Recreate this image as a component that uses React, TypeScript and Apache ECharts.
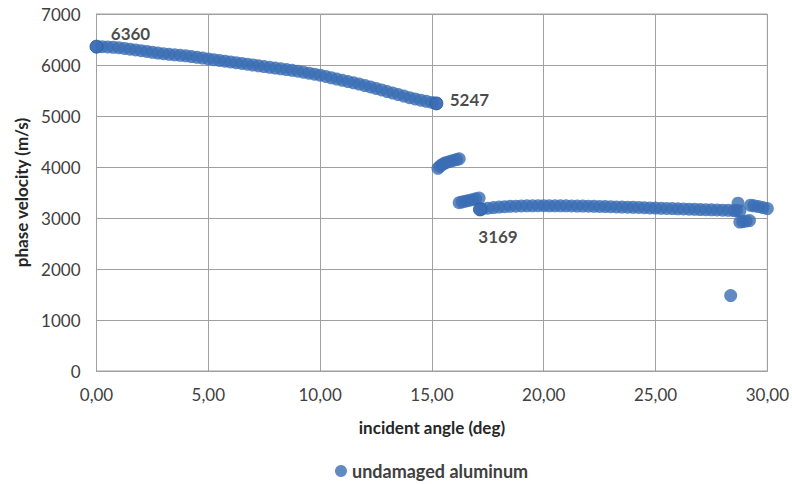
import React, { useEffect, useRef } from "react";
import * as echarts from "echarts";

// Branch 1: main curve
const angles1 = [0, 0.25, 0.5, 0.75, 1, 1.25, 1.5, 1.75, 2, 2.25, 2.5, 2.75, 3, 3.25, 3.5, 3.75, 4, 4.25, 4.5, 4.75, 5, 5.25, 5.5, 5.75, 6, 6.25, 6.5, 6.75, 7, 7.25, 7.5, 7.75, 8, 8.25, 8.5, 8.75, 9, 9.25, 9.5, 9.75, 10, 10.25, 10.5, 10.75, 11, 11.25, 11.5, 11.75, 12, 12.25, 12.5, 12.75, 13, 13.25, 13.5, 13.75, 14, 14.25, 14.5, 14.75, 15, 15.2];
const velocities1 = [6360, 6360, 6355, 6348, 6340, 6325, 6310, 6295, 6280, 6265, 6250, 6235, 6222, 6210, 6200, 6190, 6180, 6165, 6150, 6135, 6120, 6105, 6090, 6075, 6060, 6045, 6030, 6015, 6000, 5985, 5970, 5955, 5940, 5925, 5910, 5895, 5878, 5860, 5840, 5820, 5800, 5775, 5750, 5725, 5700, 5675, 5650, 5625, 5598, 5570, 5540, 5510, 5480, 5450, 5420, 5390, 5360, 5335, 5310, 5287, 5265, 5247];

// Branch 2
const angles2 = [15.27, 15.35, 15.45, 15.55, 15.65, 15.8, 15.95, 16.1, 16.22];
const velocities2 = [3975, 4010, 4045, 4070, 4090, 4110, 4128, 4145, 4160];

// Branch 3
const angles3 = [16.22, 16.35, 16.5, 16.65, 16.8, 16.95, 17.11];
const velocities3 = [3300, 3315, 3330, 3345, 3360, 3375, 3390];

// Branch 4
const angles4 = [17.15, 17.25, 17.5, 17.75, 18, 18.25, 18.5, 18.75, 19, 19.25, 19.5, 19.75, 20, 20.25, 20.5, 20.75, 21, 21.25, 21.5, 21.75, 22, 22.25, 22.5, 22.75, 23, 23.25, 23.5, 23.75, 24, 24.25, 24.5, 24.75, 25, 25.25, 25.5, 25.75, 26, 26.25, 26.5, 26.75, 27, 27.25, 27.5, 27.75, 28, 28.25, 28.5, 28.62];
const velocities4 = [3169, 3178, 3193, 3205, 3215, 3222, 3228, 3232, 3236, 3238, 3240, 3241, 3241, 3240, 3240, 3239, 3238, 3237, 3235, 3233, 3231, 3229, 3227, 3224, 3221, 3218, 3215, 3212, 3209, 3206, 3202, 3198, 3195, 3191, 3187, 3184, 3180, 3177, 3173, 3170, 3166, 3163, 3160, 3157, 3153, 3150, 3147, 3145];

// Scattered points near 28-30 deg
const angles5 = [28.36, 28.69, 28.77, 28.77, 28.9, 29.05, 29.2, 29.25, 29.4, 29.6, 29.8, 30.0];
const velocities5 = [1480, 3290, 3143, 2920, 2930, 2940, 2950, 3250, 3240, 3225, 3205, 3185];

// Annotated points
const labelAngles = [0, 15.2, 17.15];
const labelValues = [6360, 5247, 3169];

const SERIES_NAME = "undamaged aluminum";
const BLUE = "#3a6db4";
const FONT = "Lato, 'Open Sans', sans-serif";

function zip(xs: number[], ys: number[]) {
  return xs.map((x, i) => [x, ys[i]]);
}

export default function App() {
  const ref = useRef<HTMLDivElement>(null);

  useEffect(() => {
    if (!ref.current) return;
    const chart = echarts.init(ref.current, undefined, { renderer: "svg" });

    const allData = [
      ...zip(angles1, velocities1),
      ...zip(angles2, velocities2),
      ...zip(angles3, velocities3),
      ...zip(angles4, velocities4),
      ...zip(angles5, velocities5),
    ];

    const offsets: [number, number][] = [
      [34, -13],
      [33, -4],
      [18, 27],
    ];

    const labelData = labelAngles.map((a, i) => ({
      value: [a, labelValues[i]],
      label: {
        show: true,
        position: "inside",
        offset: offsets[i],
        formatter: String(labelValues[i]),
        fontFamily: FONT,
        fontWeight: "bold",
        fontSize: 17,
        color: "#1a1a1a",
      },
    }));

    chart.setOption({
      animation: false,
      backgroundColor: "#ffffff",
      grid: {
        left: 96.5,
        right: 24.5,
        top: 14,
        bottom: 113,
        show: true,
        borderColor: "#a0a0a0",
        borderWidth: 1,
      },
      legend: {
        data: [SERIES_NAME],
        left: 330,
        top: 457,
        icon: "circle",
        itemWidth: 12,
        itemHeight: 12,
        itemGap: 6,
        textStyle: {
          fontFamily: FONT,
          fontWeight: "bold",
          fontSize: 18,
          color: "#404040",
        },
      },
      xAxis: {
        type: "value",
        min: 0,
        max: 30,
        interval: 5,
        name: "incident angle (deg)",
        nameLocation: "middle",
        nameGap: 48,
        nameTextStyle: {
          fontFamily: FONT,
          fontWeight: "bold",
          fontSize: 17,
          color: "#262626",
        },
        axisLine: { show: true, lineStyle: { color: "#a0a0a0" } },
        axisTick: { show: false },
        splitLine: { show: true, lineStyle: { color: "#a0a0a0", width: 1 } },
        axisLabel: {
          margin: 15,
          fontFamily: FONT,
          fontSize: 17,
          color: "#404040",
          formatter: (v: number) => v.toFixed(2).replace(".", ","),
        },
      },
      yAxis: {
        type: "value",
        min: 0,
        max: 7000,
        interval: 1000,
        name: "phase velocity (m/s)",
        nameLocation: "middle",
        nameGap: 66,
        nameTextStyle: {
          fontFamily: FONT,
          fontWeight: "bold",
          fontSize: 17,
          color: "#262626",
        },
        axisLine: { show: true, lineStyle: { color: "#a0a0a0" } },
        axisTick: { show: false },
        splitLine: { show: true, lineStyle: { color: "#a0a0a0", width: 1 } },
        axisLabel: {
          margin: 16,
          fontFamily: FONT,
          fontSize: 17,
          color: "#404040",
          formatter: (v: number) => String(v),
        },
      },
      series: [
        {
          name: SERIES_NAME,
          type: "scatter",
          symbol: "circle",
          symbolSize: 13,
          itemStyle: { color: BLUE },
          data: allData,
          z: 2,
        },
        {
          name: "labels",
          type: "scatter",
          symbol: "circle",
          symbolSize: 13,
          itemStyle: { color: BLUE, borderColor: "#2d5a98", borderWidth: 1 },
          data: labelData,
          z: 3,
        },
      ],
    });

    return () => chart.dispose();
  }, []);

  return (
    <div
      ref={ref}
      style={{ position: "absolute", left: 0, top: 0, width: 792, height: 484 }}
    />
  );
}
